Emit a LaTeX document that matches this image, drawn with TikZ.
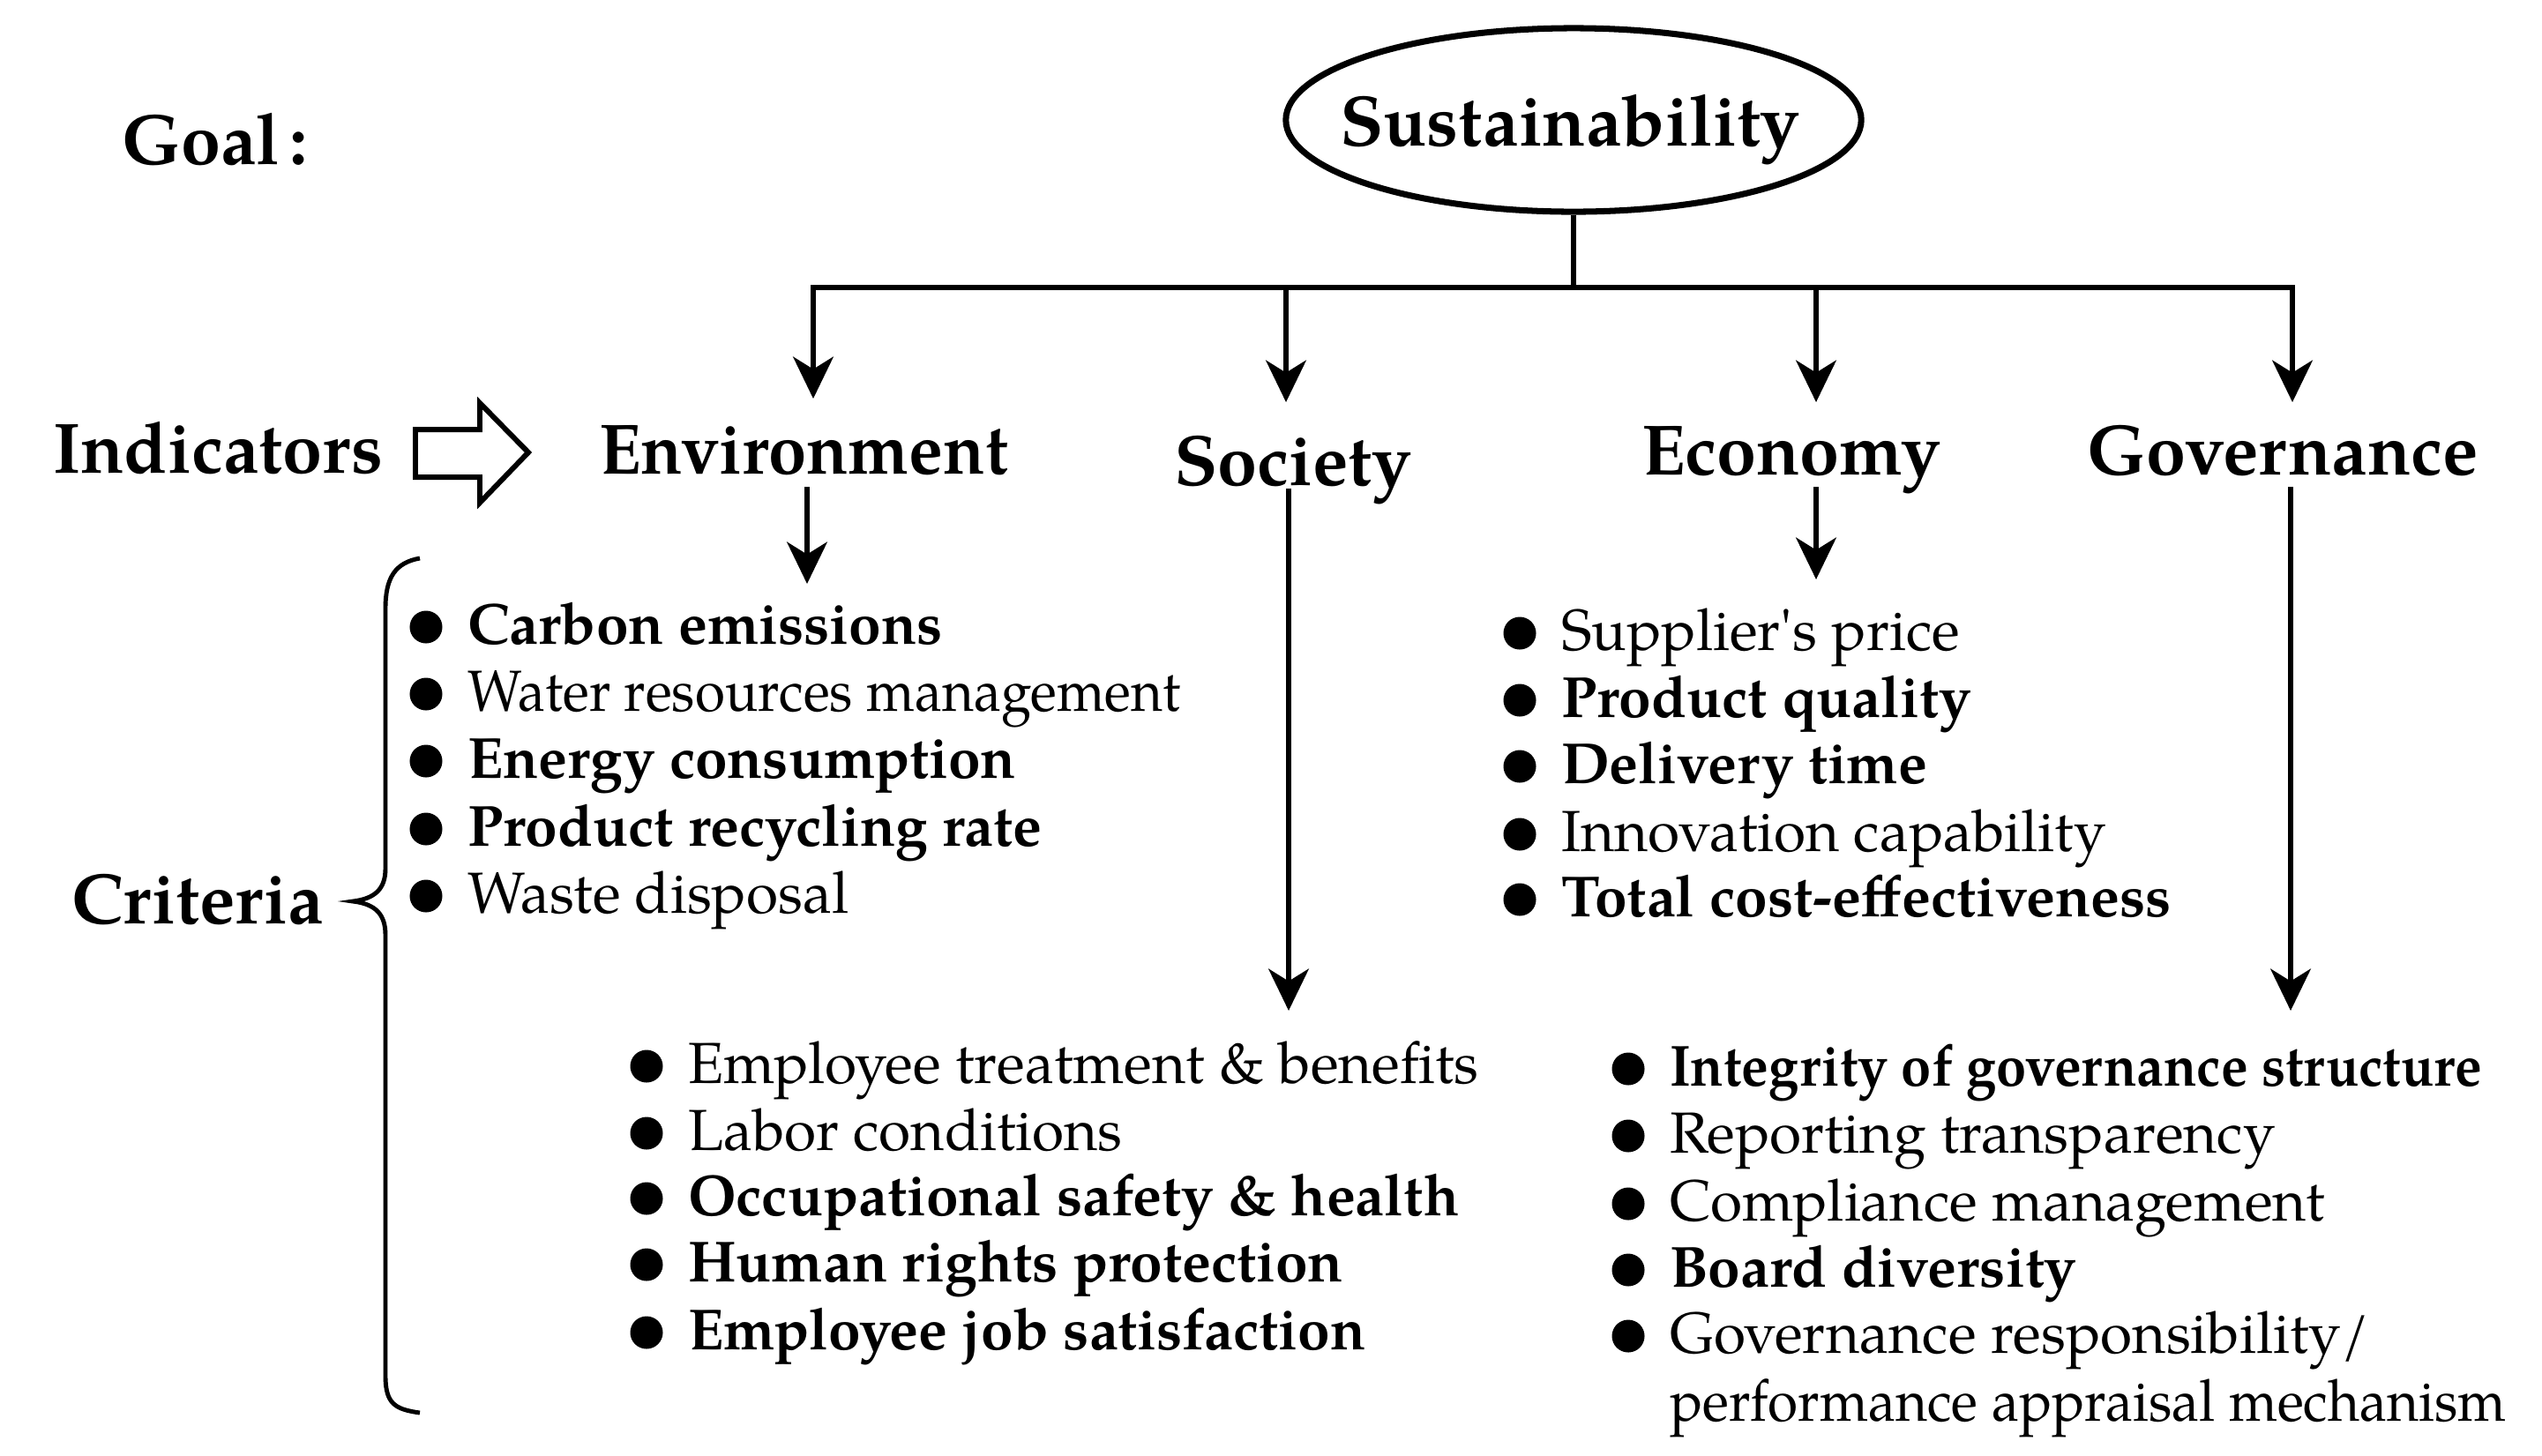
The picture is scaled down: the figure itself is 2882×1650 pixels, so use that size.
\documentclass[tikz,border=0pt]{standalone}
\usepackage{graphicx}
\usepackage{fontspec}
\setmainfont{TeX Gyre Pagella}
\usetikzlibrary{arrows.meta,shapes.geometric}
\newcommand\bitem[4]{%
  \fill (#2-47,#3-19) circle[radius=0.185cm];
  \node[it] (#1) at (#2,#3) {#4};}
\begin{document}
\begin{tikzpicture}[x=0.01cm,y=-0.01cm,
  hd/.style={font=\fontsize{23}{27}\selectfont\bfseries,inner sep=0pt,outer sep=0pt},
  it/.style={font=\fontsize{18.7}{22}\selectfont,inner sep=0pt,outer sep=0pt,anchor=base west},
  ln/.style={line width=1.5pt},
  arr/.style={ln,-{Stealth[length=13.5pt,width=13pt,inset=4pt]}}]
\useasboundingbox (0,0) rectangle (2882,1650);

% goal
\node[hd,anchor=base west] (goal) at (138,186) {Goal\kern3pt:};
\node[draw,ellipse,line width=2pt,minimum width=6.52cm,minimum height=2.08cm,inner sep=0pt] (sus) at (1784,136) {};
\node[hd,anchor=base] (sust) at (1780,165) {Sustainability};

% tree
\coordinate (hub) at (1784,326);
\coordinate (b1) at (922,326);
\coordinate (b2) at (1458,326);
\coordinate (b3) at (2059,326);
\coordinate (b4) at (2599,326);
\coordinate (t1) at (922,452);
\coordinate (t2) at (1458,456);
\coordinate (t3) at (2059,456);
\coordinate (t4) at (2599,456);
\draw[ln] (sus.south) -- (hub);
\draw[ln,line cap=rect] (b1) -- (b4);
\draw[arr] (b1) -- (t1);
\draw[arr] (b2) -- (t2);
\draw[arr] (b3) -- (t3);
\draw[arr] (b4) -- (t4);

% indicators
\node[hd,anchor=base west] (ind) at (60,536) {Indicators};
\draw[line width=1.7pt,line join=miter] (471,487) -- (544,487) -- (544,457) -- (599,513) -- (544,570) -- (544,541) -- (471,541) -- cycle;
\node[hd,anchor=base] (env) at (911,537) {\scalebox{0.96}[1]{Environment}};
\node[hd,anchor=base] (soc) at (1466,550) {Society};
\node[hd,anchor=base] (eco) at (2031,538) {Economy};
\node[hd,anchor=base] (gov) at (2588,538) {Governance};

% lower arrows
\coordinate (ea) at (915,552);  \coordinate (eb) at (915,662);
\coordinate (sa) at (1461,554); \coordinate (sb) at (1461,1146);
\coordinate (ca) at (2059,552); \coordinate (cb) at (2059,657);
\coordinate (ga) at (2597,552); \coordinate (gb) at (2597,1146);
\draw[arr] (ea) -- (eb);
\draw[arr] (sa) -- (sb);
\draw[arr] (ca) -- (cb);
\draw[arr] (ga) -- (gb);

% criteria + brace
\node[hd,anchor=base west] (crit) at (81,1047) {Criteria};
\draw[line width=1.4pt] (476,633) .. controls (448,638) and (437,655) .. (437,690)
  -- (437,985) .. controls (437,1008) and (425,1019) .. (400,1022)
  .. controls (425,1025) and (437,1036) .. (437,1060)
  -- (437,1560) .. controls (437,1592) and (448,1598) .. (476,1602);

% environment criteria
\bitem{en1}{530}{730}{\bfseries Carbon emissions}
\bitem{en2}{530}{806}{\scalebox{0.941}[1]{Water resources management}}
\bitem{en3}{530}{882}{\bfseries Energy consumption}
\bitem{en4}{530}{959}{\bfseries Product recycling rate}
\bitem{en5}{530}{1035}{Waste disposal}

% economy criteria
\bitem{ec1}{1770}{737}{Supplier\textquotesingle s price}
\bitem{ec2}{1770}{813}{\bfseries Product quality}
\bitem{ec3}{1770}{888}{\bfseries Delivery time}
\bitem{ec4}{1770}{965}{Innovation capability}
\bitem{ec5}{1770}{1039}{\bfseries Total cost-effectiveness}

% society criteria
\bitem{so1}{780}{1228}{Employee treatment \& benefits}
\bitem{so2}{780}{1304}{Labor conditions}
\bitem{so3}{780}{1378}{\bfseries Occupational safety \& health}
\bitem{so4}{780}{1453}{\bfseries Human rights protection}
\bitem{so5}{780}{1530}{\bfseries Employee job satisfaction}

% governance criteria
\bitem{go1}{1893}{1231}{\bfseries\scalebox{0.933}[1]{Integrity of governance structure}}
\bitem{go2}{1893}{1307}{Reporting transparency}
\bitem{go3}{1893}{1384}{Compliance management}
\bitem{go4}{1893}{1459}{\bfseries Board diversity}
\bitem{go5}{1893}{1534}{Governance responsibility/}
\node[it] (go6) at (1893,1611) {\scalebox{0.944}[1]{performance appraisal mechanism}};
\end{tikzpicture}
\end{document}
